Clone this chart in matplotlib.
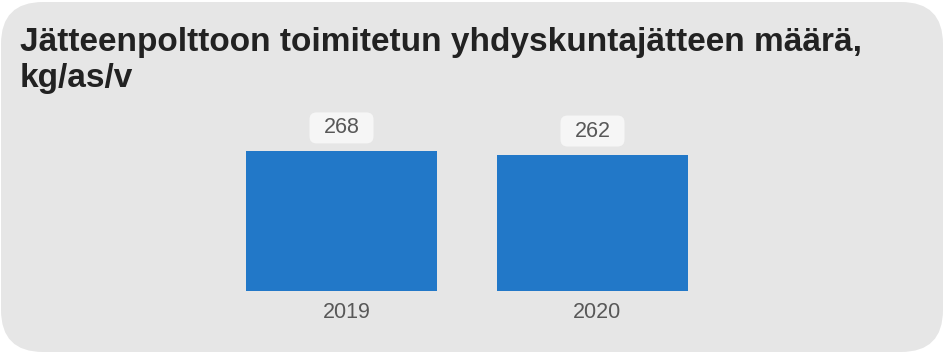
import matplotlib
matplotlib.use("Agg")
import matplotlib.pyplot as plt
from matplotlib.patches import FancyBboxPatch
from matplotlib.transforms import ScaledTranslation

plt.rcParams['font.family'] = ['Liberation Sans', 'DejaVu Sans']

years = ["2019", "2020"]
values = [268, 262]
title = "Jätteenpolttoon toimitetun yhdyskuntajätteen määrä,\nkg/as/v"

bar_color = "#2278c8"
panel_color = "#e6e6e6"
label_box_color = "#f6f6f6"
text_color = "#585858"

W, H = 945, 353
fig = plt.figure(figsize=(W / 100, H / 100), dpi=100)
fig.patch.set_facecolor("white")

# rounded grey panel behind everything
panel = FancyBboxPatch((0.01, 0.01), W / 100 - 0.03, H / 100 - 0.03,
                       boxstyle="round,pad=0,rounding_size=0.42",
                       transform=fig.dpi_scale_trans,
                       facecolor=panel_color, edgecolor="none", zorder=-10)
fig.patches.append(panel)

fig.text(20 / W, 1 - 27 / H, title, ha="left", va="top", fontsize=24,
         fontweight="bold", color="#222222", linespacing=1.22)

# axes spanning the plot area: x=-0.5..1.5, baseline at y=290.5px
ax_left, ax_right = 216 / W, 718 / W
ax_bottom, ax_top = (H - 290.5) / H, (H - 100) / H
ax = fig.add_axes([ax_left, ax_bottom, ax_right - ax_left, ax_top - ax_bottom])
ax.set_facecolor("none")
ax.set_xlim(-0.5, 1.5)
ax.set_ylim(0, 190.5 / 0.519)

xs = list(range(len(years)))
ax.bar(xs, values, width=0.761, color=bar_color, zorder=2)

# value labels sit in small rounded boxes above the bars
units_per_px_x = 2 / 502
units_per_px_y = 1 / 0.519
box_w, box_h = 64 * units_per_px_x, 31 * units_per_px_y
gap = 8 * units_per_px_y
for x, v in zip(xs, values):
    box = FancyBboxPatch((x - box_w / 2, v + gap), box_w, box_h,
                         boxstyle="round,pad=0,rounding_size=%f" % (7 * units_per_px_x),
                         mutation_aspect=units_per_px_y / units_per_px_x,
                         facecolor=label_box_color, edgecolor="none",
                         zorder=3, clip_on=False)
    ax.add_patch(box)
    ax.text(x, v + gap + box_h / 2, str(v), ha="center", va="center",
            fontsize=15.5, color=text_color, zorder=4)

ax.set_xticks(xs)
ax.set_xticklabels(years, fontsize=15.5, color=text_color)
ax.tick_params(axis="x", length=0, pad=8)
shift = ScaledTranslation(5 / 100, 0, fig.dpi_scale_trans)
for lbl in ax.get_xticklabels():
    lbl.set_transform(lbl.get_transform() + shift)
ax.set_yticks([])
for s in ax.spines.values():
    s.set_visible(False)

fig.savefig("out.png", dpi=100)
